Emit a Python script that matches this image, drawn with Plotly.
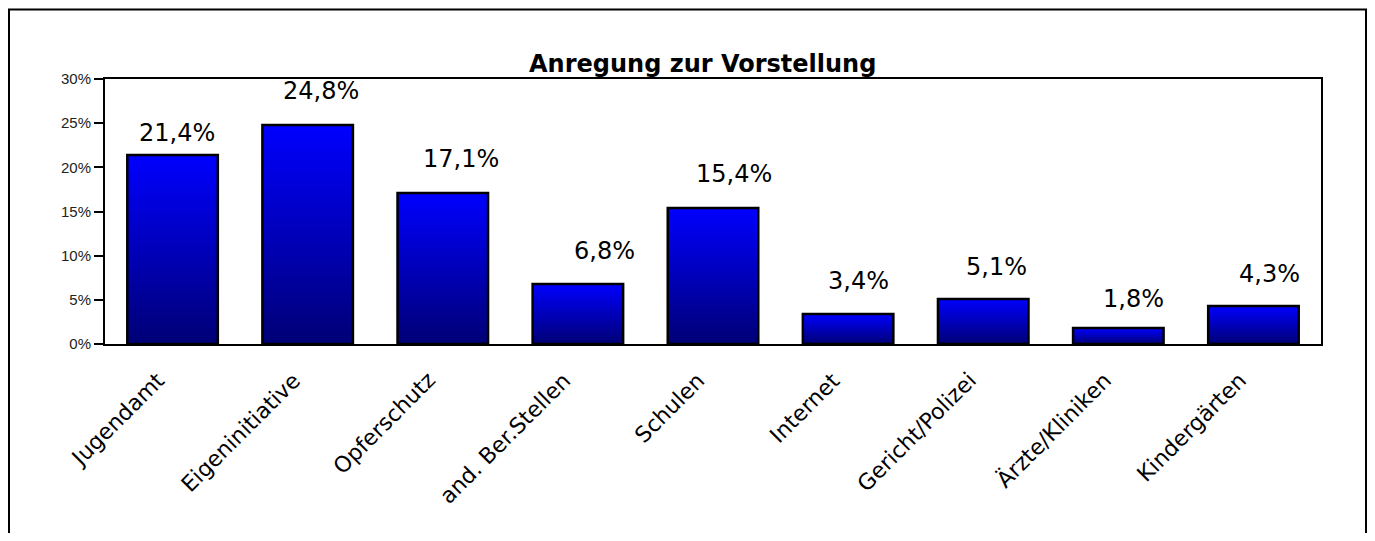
import plotly.graph_objects as go

categories = ["Jugendamt", "Eigeninitiative", "Opferschutz", "and. Ber.Stellen", "Schulen",
              "Internet", "Gericht/Polizei", "Ärzte/Kliniken", "Kindergärten"]
values = [21.4, 24.8, 17.1, 6.8, 15.4, 3.4, 5.1, 1.8, 4.3]
y_ticks = [0, 5, 10, 15, 20, 25, 30]
y_ticktext = [f"{t}%" for t in y_ticks]
title_text = "Anregung zur Vorstellung"

# per-label nudges of the value labels (pixels), as placed in the original
label_dx = [4, 13, 18, 27, 21, 10, 13, 15, 16]
label_dy = [6, 18, 17.5, 16.5, 18, 16.5, 16, 13, 16]

# the page body has an 8px margin; figure coordinates are offset accordingly
W, H = 1359, 525
ML, MT = 97, 71
PR, PB = 1313, 336
MR, MB = W - PR, H - PB
PW, PH = PR - ML, PB - MT

fig = go.Figure()

# gradient: stacked overlaid bars, bright on top, dark at bottom
N = 50
top_rgb = (0, 0, 255)
bot_rgb = (0, 0, 118)
for k in range(N):
    frac = 1 - k / N
    mid = 1 - (k + 0.5) / N
    r = int(bot_rgb[0] + (top_rgb[0] - bot_rgb[0]) * mid)
    g = int(bot_rgb[1] + (top_rgb[1] - bot_rgb[1]) * mid)
    b = int(bot_rgb[2] + (top_rgb[2] - bot_rgb[2]) * mid)
    fig.add_trace(go.Bar(
        x=categories, y=[v * frac for v in values], width=0.67,
        marker=dict(color=f"rgb({r},{g},{b})", line=dict(width=0)),
        hoverinfo="skip", showlegend=False))

# outline
fig.add_trace(go.Bar(
    x=categories, y=values, width=0.67,
    marker=dict(color="rgba(0,0,0,0)", line=dict(color="black", width=2.5)),
    showlegend=False))

for c, v, dx, dy in zip(categories, values, label_dx, label_dy):
    fig.add_annotation(x=c, y=v, xref="x", yref="y", text=f"{v:.1f}".replace(".", ",") + "%",
                       showarrow=False, yanchor="bottom", xshift=dx, yshift=dy,
                       font=dict(family="DejaVu Sans", size=24, color="black"))

# category labels, rotated
for c in categories:
    fig.add_annotation(x=c, y=0, xref="x", yref="y", text=c, textangle=-45,
                       showarrow=False, xanchor="right", yanchor="top", xshift=0, yshift=-21,
                       font=dict(family="DejaVu Sans", size=22, color="black"))

fig.add_annotation(xref="paper", yref="paper", x=(694 - ML) / PW, y=(PB - 56) / PH,
                   text=f"<b>{title_text}</b>", showarrow=False, yanchor="middle", xanchor="center",
                   font=dict(family="DejaVu Sans", size=24, color="black"))

# outer border
fig.add_shape(type="rect", xref="paper", yref="paper",
              x0=(1 - ML) / PW, x1=(1358 - ML) / PW,
              y0=(PB - 540) / PH, y1=(PB - 1.5) / PH,
              line=dict(color="black", width=2), fillcolor="rgba(0,0,0,0)", layer="below")

fig.update_layout(
    width=W, height=H, barmode="overlay",
    margin=dict(l=ML, r=MR, t=MT, b=MB, autoexpand=False),
    plot_bgcolor="white", paper_bgcolor="white",
    bargap=0.33,
)
fig.update_xaxes(type="category", range=[-0.5, len(categories) - 0.5],
                 showline=True, linecolor="black", linewidth=2, mirror=True,
                 showgrid=False, ticks="", showticklabels=False)
fig.update_yaxes(range=[0, 30], tickvals=y_ticks, ticktext=y_ticktext,
                 showline=True, linecolor="black", linewidth=2, mirror=True,
                 showgrid=False, zeroline=False, ticks="outside", ticklen=9, tickwidth=2,
                 tickcolor="black",
                 tickfont=dict(family="Liberation Sans", size=15, color="#222"))

fig.write_html("out.html")
